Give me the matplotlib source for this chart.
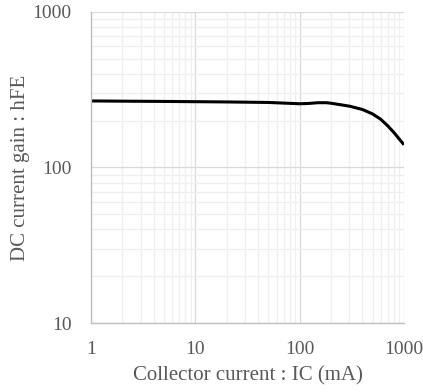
import numpy as np
import matplotlib.pyplot as plt

# Collector current (mA) and DC current gain
ic_ma = [1, 2, 5, 10, 20, 50, 100, 120, 150, 180, 200, 300, 400, 500, 600, 700, 800, 1000]
hfe = [268, 267, 266, 265, 264, 262, 257, 258, 261, 261, 259, 248, 236, 221, 204, 185, 168, 140]

xticks = [1, 10, 100, 1000]
yticks = [10, 100, 1000]

plt.rcParams['font.family'] = ['Liberation Serif', 'DejaVu Serif']

fig = plt.figure(figsize=(4.23, 3.92), dpi=100)
ax = fig.add_axes([91 / 423, 69 / 392, 313 / 423, 311 / 392])

ax.set_xscale('log')
ax.set_yscale('log')
ax.set_xlim(1, 1000)
ax.set_ylim(10, 1000)

ax.grid(True, which='major', color='#d9d9d9', linewidth=0.9)
ax.grid(True, which='minor', color='#efefef', linewidth=0.9)
ax.set_axisbelow(True)

ax.plot(ic_ma, hfe, color='black', linewidth=2.2, solid_capstyle='butt')

ax.set_xticks(xticks)
ax.set_xticklabels([str(v) for v in xticks])
ax.set_yticks(yticks)
ax.set_yticklabels([str(v) for v in yticks])
ax.tick_params(which='both', length=0, labelsize=14, labelcolor='#595959')
ax.tick_params(axis='x', pad=13)
ax.tick_params(axis='y', pad=14)

for side in ['top', 'right']:
    ax.spines[side].set_visible(False)
for side in ['left', 'bottom']:
    ax.spines[side].set_color('#bfbfbf')
    ax.spines[side].set_linewidth(1.0)

ax.set_xlabel('Collector current : IC (mA)', fontsize=15, color='#595959', va='center')
ax.set_ylabel('DC current gain : hFE', fontsize=15, color='#595959', va='center')
ax.xaxis.set_label_coords(0.5, (392 - 376 - 69) / 311)
ax.yaxis.set_label_coords((20 - 91) / 313, 0.5)

fig.savefig('out.png', dpi=100)
